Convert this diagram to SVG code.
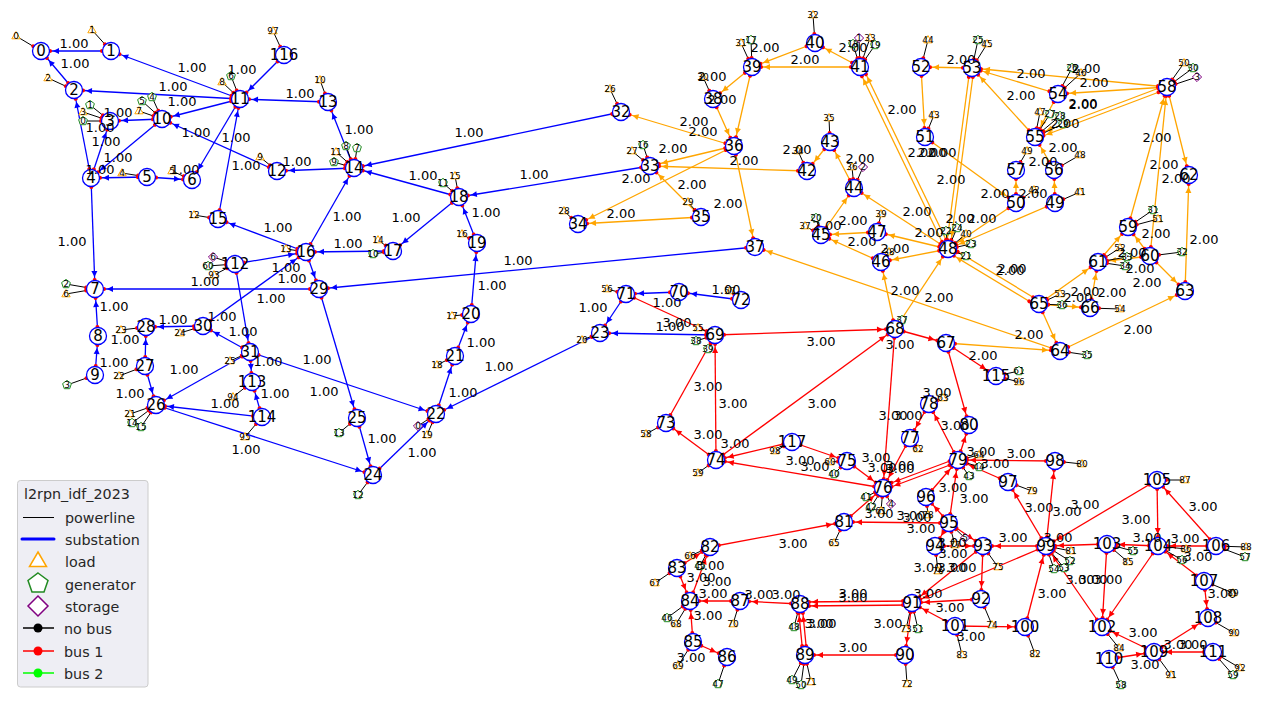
<svg xmlns="http://www.w3.org/2000/svg" width="1263" height="704" viewBox="0 0 1263 704">
<style>
text{font-family:"DejaVu Sans",sans-serif;fill:#000;text-anchor:middle;dominant-baseline:central}
.n{font-size:15px}.e{font-size:13px}.s{font-size:9px}
.lg{font-size:14.3px;fill:#262626;text-anchor:start}
line.b,line.o,line.r{stroke-width:1.3;marker-start:url(#d)}
line.b{stroke:#00f;marker-end:url(#ab)}line.o{stroke:#ffa500;marker-end:url(#ao)}line.r{stroke:#f00;marker-end:url(#ar)}
line.p{stroke:#000;stroke-width:1;marker-start:url(#d)}
circle.c{fill:#fff;stroke:#00f;stroke-width:1.3}
.L{fill:#fff;stroke:#ffa500}.G{fill:#fff;stroke:#228b22}.S{fill:#fff;stroke:#800080}
</style>
<defs>
<marker id="d" markerUnits="userSpaceOnUse" overflow="visible" orient="auto" refX="0" refY="0" markerWidth="1" markerHeight="1"><circle cx="9" cy="0" r="2" fill="#f00"/></marker>
<marker id="ab" markerUnits="userSpaceOnUse" overflow="visible" orient="auto" refX="0" refY="0" markerWidth="1" markerHeight="1"><circle cx="-9" cy="0" r="2" fill="#f00"/><polygon points="-12,0 -18,-3 -18,3" fill="#00f"/></marker>
<marker id="ao" markerUnits="userSpaceOnUse" overflow="visible" orient="auto" refX="0" refY="0" markerWidth="1" markerHeight="1"><circle cx="-9" cy="0" r="2" fill="#f00"/><polygon points="-12,0 -18,-3 -18,3" fill="#ffa500"/></marker>
<marker id="ar" markerUnits="userSpaceOnUse" overflow="visible" orient="auto" refX="0" refY="0" markerWidth="1" markerHeight="1"><circle cx="-9" cy="0" r="2" fill="#f00"/><polygon points="-12,0 -18,-3 -18,3" fill="#f00"/></marker>
<polygon id="tL" class="L" points="0,-4.4 4.2,2.8 -4.2,2.8"/>
<polygon id="tG" class="G" points="0,-4.6 4.4,-1.4 2.7,3.7 -2.7,3.7 -4.4,-1.4"/>
<polygon id="tS" class="S" points="0,-4.6 4.6,0 0,4.6 -4.6,0"/>
</defs>
<g id="connectors">
<g id="lines-blue">
<line class="b" x1="111" y1="51" x2="41" y2="51"/><line class="b" x1="74" y1="90" x2="41" y2="51"/><line class="b" x1="240" y1="99" x2="111" y2="51"/><line class="b" x1="240" y1="99" x2="74" y2="90"/><line class="b" x1="91" y1="178" x2="74" y2="90"/><line class="b" x1="91" y1="178" x2="110" y2="121"/><line class="b" x1="162" y1="119" x2="110" y2="121"/><line class="b" x1="162" y1="119" x2="91" y2="178"/><line class="b" x1="240" y1="99" x2="162" y2="119"/><line class="b" x1="240" y1="99" x2="192" y2="180"/><line class="b" x1="277" y1="171" x2="162" y2="119"/><line class="b" x1="218" y1="219" x2="240" y2="99"/><line class="b" x1="284" y1="55" x2="240" y2="99"/><line class="b" x1="328" y1="102" x2="240" y2="99"/><line class="b" x1="354" y1="168" x2="277" y2="171"/><line class="b" x1="354" y1="168" x2="328" y2="102"/><line class="b" x1="147" y1="177" x2="91" y2="178"/><line class="b" x1="147" y1="177" x2="192" y2="180"/><line class="b" x1="91" y1="178" x2="95" y2="289"/><line class="b" x1="98" y1="336" x2="95" y2="289"/><line class="b" x1="95" y1="375" x2="98" y2="336"/><line class="b" x1="306" y1="252" x2="218" y2="219"/><line class="b" x1="621" y1="112" x2="354" y2="168"/><line class="b" x1="459" y1="197" x2="354" y2="168"/><line class="b" x1="306" y1="252" x2="354" y2="168"/><line class="b" x1="393" y1="251" x2="306" y2="252"/><line class="b" x1="459" y1="197" x2="393" y2="251"/><line class="b" x1="477" y1="243" x2="459" y2="197"/><line class="b" x1="471" y1="314" x2="477" y2="243"/><line class="b" x1="455" y1="356" x2="471" y2="314"/><line class="b" x1="436" y1="414" x2="455" y2="356"/><line class="b" x1="600" y1="333" x2="436" y2="414"/><line class="b" x1="373" y1="475" x2="436" y2="414"/><line class="b" x1="357" y1="418" x2="373" y2="475"/><line class="b" x1="319" y1="289" x2="357" y2="418"/><line class="b" x1="156" y1="405" x2="373" y2="475"/><line class="b" x1="306" y1="252" x2="319" y2="289"/><line class="b" x1="755" y1="247" x2="319" y2="289"/><line class="b" x1="319" y1="289" x2="95" y2="289"/><line class="b" x1="203" y1="326" x2="306" y2="252"/><line class="b" x1="235" y1="264" x2="306" y2="252"/><line class="b" x1="250" y1="352" x2="203" y2="326"/><line class="b" x1="203" y1="326" x2="146" y2="327"/><line class="b" x1="145" y1="366" x2="146" y2="327"/><line class="b" x1="145" y1="366" x2="156" y2="405"/><line class="b" x1="250" y1="352" x2="156" y2="405"/><line class="b" x1="262" y1="417" x2="156" y2="405"/><line class="b" x1="250" y1="352" x2="436" y2="414"/><line class="b" x1="250" y1="352" x2="252" y2="382"/><line class="b" x1="262" y1="417" x2="252" y2="382"/><line class="b" x1="235" y1="264" x2="250" y2="352"/><line class="b" x1="650" y1="166" x2="459" y2="197"/><line class="b" x1="626" y1="294" x2="600" y2="333"/><line class="b" x1="715" y1="335" x2="600" y2="333"/><line class="b" x1="679" y1="292" x2="626" y2="294"/><line class="b" x1="741" y1="300" x2="679" y2="292"/>
</g>
<g id="lines-orange">
<line class="o" x1="734" y1="146" x2="621" y2="112"/><line class="o" x1="734" y1="146" x2="650" y2="166"/><line class="o" x1="807" y1="171" x2="650" y2="166"/><line class="o" x1="701" y1="217" x2="650" y2="166"/><line class="o" x1="734" y1="146" x2="578" y2="224"/><line class="o" x1="701" y1="217" x2="578" y2="224"/><line class="o" x1="713" y1="99" x2="734" y2="146"/><line class="o" x1="752" y1="67" x2="734" y2="146"/><line class="o" x1="752" y1="67" x2="713" y2="99"/><line class="o" x1="815" y1="43" x2="752" y2="67"/><line class="o" x1="860" y1="67" x2="752" y2="67"/><line class="o" x1="860" y1="67" x2="815" y2="43"/><line class="o" x1="734" y1="146" x2="755" y2="247"/><line class="o" x1="1060" y1="351" x2="755" y2="247"/><line class="o" x1="830" y1="142" x2="807" y2="171"/><line class="o" x1="854" y1="188" x2="830" y2="142"/><line class="o" x1="821" y1="235" x2="854" y2="188"/><line class="o" x1="877" y1="232" x2="821" y2="235"/><line class="o" x1="881" y1="262" x2="821" y2="235"/><line class="o" x1="948" y1="249" x2="877" y2="232"/><line class="o" x1="948" y1="249" x2="881" y2="262"/><line class="o" x1="948" y1="249" x2="854" y2="188"/><line class="o" x1="946" y1="250" x2="858" y2="68"/><line class="o" x1="950" y1="248" x2="862" y2="66"/><line class="o" x1="970" y1="68" x2="946" y2="249"/><line class="o" x1="974" y1="68" x2="950" y2="249"/><line class="o" x1="1016" y1="203" x2="948" y2="249"/><line class="o" x1="1055" y1="203" x2="948" y2="249"/><line class="o" x1="925" y1="137" x2="1016" y2="203"/><line class="o" x1="921" y1="67" x2="925" y2="137"/><line class="o" x1="972" y1="68" x2="921" y2="67"/><line class="o" x1="1058" y1="94" x2="972" y2="68"/><line class="o" x1="1167" y1="87" x2="972" y2="68"/><line class="o" x1="1035" y1="137" x2="972" y2="68"/><line class="o" x1="1167" y1="87" x2="1058" y2="94"/><line class="o" x1="1058" y1="94" x2="1035" y2="137"/><line class="o" x1="1167" y1="85" x2="1035" y2="135"/><line class="o" x1="1167" y1="89" x2="1035" y2="139"/><line class="o" x1="1054" y1="170" x2="1035" y2="137"/><line class="o" x1="1055" y1="203" x2="1054" y2="170"/><line class="o" x1="1016" y1="203" x2="1016" y2="170"/><line class="o" x1="1128" y1="227" x2="1167" y2="87"/><line class="o" x1="1150" y1="256" x2="1167" y2="87"/><line class="o" x1="1167" y1="87" x2="1189" y2="175"/><line class="o" x1="1185" y1="291" x2="1189" y2="175"/><line class="o" x1="1150" y1="256" x2="1128" y2="227"/><line class="o" x1="1098" y1="262" x2="1128" y2="227"/><line class="o" x1="1150" y1="256" x2="1098" y2="262"/><line class="o" x1="1150" y1="256" x2="1185" y2="291"/><line class="o" x1="1060" y1="351" x2="1185" y2="291"/><line class="o" x1="1039" y1="304" x2="1098" y2="262"/><line class="o" x1="1090" y1="308" x2="1098" y2="262"/><line class="o" x1="1039" y1="304" x2="1090" y2="308"/><line class="o" x1="1039" y1="304" x2="1060" y2="351"/><line class="o" x1="1041" y1="302" x2="950" y2="247"/><line class="o" x1="1037" y1="306" x2="946" y2="251"/><line class="o" x1="895" y1="329" x2="948" y2="249"/><line class="o" x1="895" y1="329" x2="881" y2="262"/><line class="o" x1="946" y1="343" x2="1060" y2="351"/>
</g>
<g id="lines-red">
<line class="r" x1="626" y1="294" x2="715" y2="335"/><line class="r" x1="715" y1="335" x2="895" y2="329"/><line class="r" x1="716" y1="460" x2="715" y2="335"/><line class="r" x1="666" y1="423" x2="715" y2="335"/><line class="r" x1="716" y1="460" x2="666" y2="423"/><line class="r" x1="716" y1="460" x2="895" y2="329"/><line class="r" x1="792" y1="442" x2="716" y2="460"/><line class="r" x1="883" y1="488" x2="716" y2="460"/><line class="r" x1="792" y1="442" x2="847" y2="461"/><line class="r" x1="847" y1="461" x2="883" y2="488"/><line class="r" x1="895" y1="329" x2="946" y2="343"/><line class="r" x1="895" y1="329" x2="883" y2="488"/><line class="r" x1="910" y1="438" x2="883" y2="488"/><line class="r" x1="929" y1="404" x2="910" y2="438"/><line class="r" x1="958" y1="460" x2="929" y2="404"/><line class="r" x1="958" y1="460" x2="969" y2="425"/><line class="r" x1="946" y1="343" x2="969" y2="425"/><line class="r" x1="946" y1="343" x2="996" y2="376"/><line class="r" x1="958" y1="458" x2="883" y2="486"/><line class="r" x1="958" y1="462" x2="883" y2="490"/><line class="r" x1="926" y1="497" x2="958" y2="460"/><line class="r" x1="949" y1="523" x2="958" y2="460"/><line class="r" x1="1008" y1="482" x2="958" y2="460"/><line class="r" x1="1055" y1="461" x2="958" y2="460"/><line class="r" x1="949" y1="523" x2="926" y2="497"/><line class="r" x1="949" y1="523" x2="844" y2="522"/><line class="r" x1="844" y1="522" x2="883" y2="488"/><line class="r" x1="1046" y1="546" x2="1008" y2="482"/><line class="r" x1="1046" y1="546" x2="1055" y2="461"/><line class="r" x1="710" y1="547" x2="844" y2="522"/><line class="r" x1="949" y1="523" x2="983" y2="546"/><line class="r" x1="949" y1="523" x2="935" y2="546"/><line class="r" x1="935" y1="546" x2="983" y2="546"/><line class="r" x1="1046" y1="546" x2="983" y2="546"/><line class="r" x1="983" y1="546" x2="912" y2="603"/><line class="r" x1="1046" y1="546" x2="912" y2="603"/><line class="r" x1="983" y1="546" x2="981" y2="599"/><line class="r" x1="981" y1="599" x2="912" y2="603"/><line class="r" x1="955" y1="626" x2="912" y2="603"/><line class="r" x1="955" y1="626" x2="1025" y2="627"/><line class="r" x1="1025" y1="627" x2="1046" y2="546"/><line class="r" x1="912" y1="601" x2="800" y2="602"/><line class="r" x1="912" y1="605" x2="800" y2="606"/><line class="r" x1="912" y1="603" x2="905" y2="655"/><line class="r" x1="905" y1="655" x2="805" y2="655"/><line class="r" x1="803" y1="655" x2="798" y2="604"/><line class="r" x1="807" y1="655" x2="802" y2="604"/><line class="r" x1="800" y1="604" x2="740" y2="601"/><line class="r" x1="740" y1="601" x2="690" y2="601"/><line class="r" x1="693" y1="642" x2="690" y2="601"/><line class="r" x1="693" y1="642" x2="727" y2="657"/><line class="r" x1="677" y1="568" x2="690" y2="601"/><line class="r" x1="677" y1="568" x2="710" y2="547"/><line class="r" x1="690" y1="601" x2="710" y2="547"/><line class="r" x1="1107" y1="544" x2="1046" y2="546"/><line class="r" x1="1158" y1="546" x2="1107" y2="544"/><line class="r" x1="1216" y1="546" x2="1158" y2="546"/><line class="r" x1="1157" y1="480" x2="1158" y2="546"/><line class="r" x1="1216" y1="546" x2="1157" y2="480"/><line class="r" x1="1157" y1="480" x2="1046" y2="546"/><line class="r" x1="1102" y1="627" x2="1046" y2="546"/><line class="r" x1="1107" y1="544" x2="1102" y2="627"/><line class="r" x1="1158" y1="546" x2="1102" y2="627"/><line class="r" x1="1204" y1="581" x2="1158" y2="546"/><line class="r" x1="1204" y1="581" x2="1208" y2="618"/><line class="r" x1="1154" y1="652" x2="1208" y2="618"/><line class="r" x1="1154" y1="652" x2="1102" y2="627"/><line class="r" x1="1109" y1="659" x2="1154" y2="652"/><line class="r" x1="1213" y1="652" x2="1154" y2="652"/>
</g>
</g>
<g id="attachments">
<g id="load-0"><line class="p" x1="41" y1="51" x2="16" y2="36"/><use href="#tL" x="16" y="36"/><text class="s" x="16" y="36">0</text></g>
<g id="load-1"><line class="p" x1="111" y1="51" x2="92" y2="30"/><use href="#tL" x="92" y="30"/><text class="s" x="92" y="30">1</text></g>
<g id="load-2"><line class="p" x1="74" y1="90" x2="48" y2="78"/><use href="#tL" x="48" y="78"/><text class="s" x="48" y="78">2</text></g>
<g id="load-3"><line class="p" x1="110" y1="121" x2="83" y2="112"/><use href="#tL" x="83" y="112"/><text class="s" x="83" y="112">3</text></g>
<g id="gen-1"><line class="p" x1="110" y1="121" x2="90" y2="105"/><use href="#tG" x="90" y="105"/><text class="s" x="90" y="105">1</text></g>
<g id="gen-0"><line class="p" x1="110" y1="121" x2="83" y2="121"/><use href="#tG" x="83" y="121"/><text class="s" x="83" y="121">0</text></g>
<g id="load-4"><line class="p" x1="147" y1="177" x2="122" y2="173"/><use href="#tL" x="122" y="173"/><text class="s" x="122" y="173">4</text></g>
<g id="load-5"><line class="p" x1="192" y1="180" x2="172" y2="171"/><use href="#tL" x="172" y="171"/><text class="s" x="172" y="171">5</text></g>
<g id="gen-2"><line class="p" x1="95" y1="289" x2="66" y2="284"/><use href="#tG" x="66" y="284"/><text class="s" x="66" y="284">2</text></g>
<g id="load-6"><line class="p" x1="95" y1="289" x2="66" y2="294"/><use href="#tL" x="66" y="294"/><text class="s" x="66" y="294">6</text></g>
<g id="gen-3"><line class="p" x1="95" y1="375" x2="67" y2="385"/><use href="#tG" x="67" y="385"/><text class="s" x="67" y="385">3</text></g>
<g id="load-7"><line class="p" x1="162" y1="119" x2="139" y2="111"/><use href="#tL" x="139" y="111"/><text class="s" x="139" y="111">7</text></g>
<g id="gen-5"><line class="p" x1="162" y1="119" x2="142" y2="101"/><use href="#tG" x="142" y="101"/><text class="s" x="142" y="101">5</text></g>
<g id="gen-4"><line class="p" x1="162" y1="119" x2="152" y2="97"/><use href="#tG" x="152" y="97"/><text class="s" x="152" y="97">4</text></g>
<g id="load-8"><line class="p" x1="240" y1="99" x2="222" y2="82"/><use href="#tL" x="222" y="82"/><text class="s" x="222" y="82">8</text></g>
<g id="gen-6"><line class="p" x1="240" y1="99" x2="231" y2="76"/><use href="#tG" x="231" y="76"/><text class="s" x="231" y="76">6</text></g>
<g id="load-9"><line class="p" x1="277" y1="171" x2="260" y2="157"/><use href="#tL" x="260" y="157"/><text class="s" x="260" y="157">9</text></g>
<g id="load-10"><line class="p" x1="328" y1="102" x2="320" y2="80"/><use href="#tL" x="320" y="80"/><text class="s" x="320" y="80">10</text></g>
<g id="load-11"><line class="p" x1="354" y1="168" x2="336" y2="152"/><use href="#tL" x="336" y="152"/><text class="s" x="336" y="152">11</text></g>
<g id="gen-8"><line class="p" x1="354" y1="168" x2="346" y2="146"/><use href="#tG" x="346" y="146"/><text class="s" x="346" y="146">8</text></g>
<g id="gen-7"><line class="p" x1="354" y1="168" x2="357" y2="148"/><use href="#tG" x="357" y="148"/><text class="s" x="357" y="148">7</text></g>
<g id="gen-9"><line class="p" x1="354" y1="168" x2="334" y2="162"/><use href="#tG" x="334" y="162"/><text class="s" x="334" y="162">9</text></g>
<g id="load-15"><line class="p" x1="459" y1="197" x2="455" y2="176"/><use href="#tL" x="455" y="176"/><text class="s" x="455" y="176">15</text></g>
<g id="gen-11"><line class="p" x1="459" y1="197" x2="443" y2="183"/><use href="#tG" x="443" y="183"/><text class="s" x="443" y="183">11</text></g>
<g id="load-12"><line class="p" x1="218" y1="219" x2="194" y2="215"/><use href="#tL" x="194" y="215"/><text class="s" x="194" y="215">12</text></g>
<g id="load-13"><line class="p" x1="306" y1="252" x2="286" y2="249"/><use href="#tL" x="286" y="249"/><text class="s" x="286" y="249">13</text></g>
<g id="load-14"><line class="p" x1="393" y1="251" x2="378" y2="240"/><use href="#tL" x="378" y="240"/><text class="s" x="378" y="240">14</text></g>
<g id="gen-10"><line class="p" x1="393" y1="251" x2="373" y2="254"/><use href="#tG" x="373" y="254"/><text class="s" x="373" y="254">10</text></g>
<g id="load-16"><line class="p" x1="477" y1="243" x2="462" y2="234"/><use href="#tL" x="462" y="234"/><text class="s" x="462" y="234">16</text></g>
<g id="load-17"><line class="p" x1="471" y1="314" x2="452" y2="316"/><use href="#tL" x="452" y="316"/><text class="s" x="452" y="316">17</text></g>
<g id="load-18"><line class="p" x1="455" y1="356" x2="437" y2="365"/><use href="#tL" x="437" y="365"/><text class="s" x="437" y="365">18</text></g>
<g id="load-19"><line class="p" x1="436" y1="414" x2="427" y2="435"/><use href="#tL" x="427" y="435"/><text class="s" x="427" y="435">19</text></g>
<g id="storage-0"><line class="p" x1="436" y1="414" x2="418" y2="426"/><use href="#tS" x="418" y="426"/><text class="s" x="418" y="426">0</text></g>
<g id="load-20"><line class="p" x1="600" y1="333" x2="582" y2="340"/><use href="#tL" x="582" y="340"/><text class="s" x="582" y="340">20</text></g>
<g id="gen-12"><line class="p" x1="373" y1="475" x2="358" y2="495"/><use href="#tG" x="358" y="495"/><text class="s" x="358" y="495">12</text></g>
<g id="gen-13"><line class="p" x1="357" y1="418" x2="339" y2="433"/><use href="#tG" x="339" y="433"/><text class="s" x="339" y="433">13</text></g>
<g id="load-21"><line class="p" x1="156" y1="405" x2="130" y2="414"/><use href="#tL" x="130" y="414"/><text class="s" x="130" y="414">21</text></g>
<g id="gen-14"><line class="p" x1="156" y1="405" x2="132" y2="423"/><use href="#tG" x="132" y="423"/><text class="s" x="132" y="423">14</text></g>
<g id="gen-15"><line class="p" x1="156" y1="405" x2="141" y2="427"/><use href="#tG" x="141" y="427"/><text class="s" x="141" y="427">15</text></g>
<g id="load-22"><line class="p" x1="145" y1="366" x2="119" y2="376"/><use href="#tL" x="119" y="376"/><text class="s" x="119" y="376">22</text></g>
<g id="load-23"><line class="p" x1="146" y1="327" x2="121" y2="330"/><use href="#tL" x="121" y="330"/><text class="s" x="121" y="330">23</text></g>
<g id="load-24"><line class="p" x1="203" y1="326" x2="180" y2="333"/><use href="#tL" x="180" y="333"/><text class="s" x="180" y="333">24</text></g>
<g id="load-25"><line class="p" x1="250" y1="352" x2="230" y2="361"/><use href="#tL" x="230" y="361"/><text class="s" x="230" y="361">25</text></g>
<g id="load-26"><line class="p" x1="621" y1="112" x2="610" y2="89"/><use href="#tL" x="610" y="89"/><text class="s" x="610" y="89">26</text></g>
<g id="load-27"><line class="p" x1="650" y1="166" x2="632" y2="151"/><use href="#tL" x="632" y="151"/><text class="s" x="632" y="151">27</text></g>
<g id="gen-16"><line class="p" x1="650" y1="166" x2="643" y2="145"/><use href="#tG" x="643" y="145"/><text class="s" x="643" y="145">16</text></g>
<g id="load-28"><line class="p" x1="578" y1="224" x2="564" y2="211"/><use href="#tL" x="564" y="211"/><text class="s" x="564" y="211">28</text></g>
<g id="load-29"><line class="p" x1="701" y1="217" x2="688" y2="202"/><use href="#tL" x="688" y="202"/><text class="s" x="688" y="202">29</text></g>
<g id="load-30"><line class="p" x1="713" y1="99" x2="703" y2="77"/><use href="#tL" x="703" y="77"/><text class="s" x="703" y="77">30</text></g>
<g id="load-31"><line class="p" x1="752" y1="67" x2="741" y2="43"/><use href="#tL" x="741" y="43"/><text class="s" x="741" y="43">31</text></g>
<g id="gen-17"><line class="p" x1="752" y1="67" x2="751" y2="40"/><use href="#tG" x="751" y="40"/><text class="s" x="751" y="40">17</text></g>
<g id="load-32"><line class="p" x1="815" y1="43" x2="813" y2="15"/><use href="#tL" x="813" y="15"/><text class="s" x="813" y="15">32</text></g>
<g id="load-33"><line class="p" x1="860" y1="67" x2="870" y2="38"/><use href="#tL" x="870" y="38"/><text class="s" x="870" y="38">33</text></g>
<g id="gen-18"><line class="p" x1="860" y1="67" x2="853" y2="44"/><use href="#tG" x="853" y="44"/><text class="s" x="853" y="44">18</text></g>
<g id="storage-1"><line class="p" x1="860" y1="67" x2="859" y2="38"/><use href="#tS" x="859" y="38"/><text class="s" x="859" y="38">1</text></g>
<g id="gen-19"><line class="p" x1="860" y1="67" x2="875" y2="45"/><use href="#tG" x="875" y="45"/><text class="s" x="875" y="45">19</text></g>
<g id="load-34"><line class="p" x1="807" y1="171" x2="798" y2="151"/><use href="#tL" x="798" y="151"/><text class="s" x="798" y="151">34</text></g>
<g id="load-35"><line class="p" x1="830" y1="142" x2="829" y2="118"/><use href="#tL" x="829" y="118"/><text class="s" x="829" y="118">35</text></g>
<g id="load-36"><line class="p" x1="854" y1="188" x2="852" y2="167"/><use href="#tL" x="852" y="167"/><text class="s" x="852" y="167">36</text></g>
<g id="storage-2"><line class="p" x1="854" y1="188" x2="863" y2="167"/><use href="#tS" x="863" y="167"/><text class="s" x="863" y="167">2</text></g>
<g id="load-37"><line class="p" x1="821" y1="235" x2="805" y2="226"/><use href="#tL" x="805" y="226"/><text class="s" x="805" y="226">37</text></g>
<g id="gen-20"><line class="p" x1="821" y1="235" x2="816" y2="218"/><use href="#tG" x="816" y="218"/><text class="s" x="816" y="218">20</text></g>
<g id="load-38"><line class="p" x1="881" y1="262" x2="889" y2="252"/><use href="#tL" x="889" y="252"/><text class="s" x="889" y="252">38</text></g>
<g id="load-39"><line class="p" x1="877" y1="232" x2="881" y2="214"/><use href="#tL" x="881" y="214"/><text class="s" x="881" y="214">39</text></g>
<g id="load-40"><line class="p" x1="948" y1="249" x2="966" y2="234"/><use href="#tL" x="966" y="234"/><text class="s" x="966" y="234">40</text></g>
<g id="gen-22"><line class="p" x1="948" y1="249" x2="946" y2="231"/><use href="#tG" x="946" y="231"/><text class="s" x="946" y="231">22</text></g>
<g id="gen-24"><line class="p" x1="948" y1="249" x2="957" y2="228"/><use href="#tG" x="957" y="228"/><text class="s" x="957" y="228">24</text></g>
<g id="gen-23"><line class="p" x1="948" y1="249" x2="971" y2="244"/><use href="#tG" x="971" y="244"/><text class="s" x="971" y="244">23</text></g>
<g id="gen-21"><line class="p" x1="948" y1="249" x2="966" y2="256"/><use href="#tG" x="966" y="256"/><text class="s" x="966" y="256">21</text></g>
<g id="load-41"><line class="p" x1="1055" y1="203" x2="1080" y2="192"/><use href="#tL" x="1080" y="192"/><text class="s" x="1080" y="192">41</text></g>
<g id="load-42"><line class="p" x1="1016" y1="203" x2="1034" y2="190"/><use href="#tL" x="1034" y="190"/><text class="s" x="1034" y="190">42</text></g>
<g id="load-48"><line class="p" x1="1054" y1="170" x2="1080" y2="155"/><use href="#tL" x="1080" y="155"/><text class="s" x="1080" y="155">48</text></g>
<g id="load-43"><line class="p" x1="925" y1="137" x2="934" y2="115"/><use href="#tL" x="934" y="115"/><text class="s" x="934" y="115">43</text></g>
<g id="load-44"><line class="p" x1="921" y1="67" x2="928" y2="40"/><use href="#tL" x="928" y="40"/><text class="s" x="928" y="40">44</text></g>
<g id="load-45"><line class="p" x1="972" y1="68" x2="987" y2="44"/><use href="#tL" x="987" y="44"/><text class="s" x="987" y="44">45</text></g>
<g id="gen-25"><line class="p" x1="972" y1="68" x2="978" y2="40"/><use href="#tG" x="978" y="40"/><text class="s" x="978" y="40">25</text></g>
<g id="load-46"><line class="p" x1="1058" y1="94" x2="1081" y2="73"/><use href="#tL" x="1081" y="73"/><text class="s" x="1081" y="73">46</text></g>
<g id="gen-26"><line class="p" x1="1058" y1="94" x2="1072" y2="68"/><use href="#tG" x="1072" y="68"/><text class="s" x="1072" y="68">26</text></g>
<g id="load-47"><line class="p" x1="1035" y1="137" x2="1040" y2="112"/><use href="#tL" x="1040" y="112"/><text class="s" x="1040" y="112">47</text></g>
<g id="gen-27"><line class="p" x1="1035" y1="137" x2="1050" y2="114"/><use href="#tG" x="1050" y="114"/><text class="s" x="1050" y="114">27</text></g>
<g id="gen-28"><line class="p" x1="1035" y1="137" x2="1060" y2="116"/><use href="#tG" x="1060" y="116"/><text class="s" x="1060" y="116">28</text></g>
<g id="gen-29"><line class="p" x1="1035" y1="137" x2="1063" y2="124"/><use href="#tG" x="1063" y="124"/><text class="s" x="1063" y="124">29</text></g>
<g id="load-49"><line class="p" x1="1016" y1="170" x2="1027" y2="151"/><use href="#tL" x="1027" y="151"/><text class="s" x="1027" y="151">49</text></g>
<g id="load-50"><line class="p" x1="1167" y1="87" x2="1184" y2="63"/><use href="#tL" x="1184" y="63"/><text class="s" x="1184" y="63">50</text></g>
<g id="gen-30"><line class="p" x1="1167" y1="87" x2="1193" y2="68"/><use href="#tG" x="1193" y="68"/><text class="s" x="1193" y="68">30</text></g>
<g id="storage-3"><line class="p" x1="1167" y1="87" x2="1197" y2="77"/><use href="#tS" x="1197" y="77"/><text class="s" x="1197" y="77">3</text></g>
<g id="load-51"><line class="p" x1="1128" y1="227" x2="1158" y2="219"/><use href="#tL" x="1158" y="219"/><text class="s" x="1158" y="219">51</text></g>
<g id="gen-31"><line class="p" x1="1128" y1="227" x2="1153" y2="210"/><use href="#tG" x="1153" y="210"/><text class="s" x="1153" y="210">31</text></g>
<g id="load-52"><line class="p" x1="1098" y1="262" x2="1120" y2="248"/><use href="#tL" x="1120" y="248"/><text class="s" x="1120" y="248">52</text></g>
<g id="gen-33"><line class="p" x1="1098" y1="262" x2="1127" y2="257"/><use href="#tG" x="1127" y="257"/><text class="s" x="1127" y="257">33</text></g>
<g id="gen-34"><line class="p" x1="1098" y1="262" x2="1125" y2="266"/><use href="#tG" x="1125" y="266"/><text class="s" x="1125" y="266">34</text></g>
<g id="gen-32"><line class="p" x1="1150" y1="256" x2="1182" y2="252"/><use href="#tG" x="1182" y="252"/><text class="s" x="1182" y="252">32</text></g>
<g id="gen-35"><line class="p" x1="1060" y1="351" x2="1087" y2="355"/><use href="#tG" x="1087" y="355"/><text class="s" x="1087" y="355">35</text></g>
<g id="gen-36"><line class="p" x1="1039" y1="304" x2="1062" y2="305"/><use href="#tG" x="1062" y="305"/><text class="s" x="1062" y="305">36</text></g>
<g id="load-53"><line class="p" x1="1039" y1="304" x2="1060" y2="294"/><use href="#tL" x="1060" y="294"/><text class="s" x="1060" y="294">53</text></g>
<g id="load-54"><line class="p" x1="1090" y1="308" x2="1120" y2="309"/><use href="#tL" x="1120" y="309"/><text class="s" x="1120" y="309">54</text></g>
<g id="gen-37"><line class="p" x1="895" y1="329" x2="902" y2="320"/><use href="#tG" x="902" y="320"/><text class="s" x="902" y="320">37</text></g>
<g id="load-55"><line class="p" x1="715" y1="335" x2="698" y2="328"/><use href="#tL" x="698" y="328"/><text class="s" x="698" y="328">55</text></g>
<g id="gen-38"><line class="p" x1="715" y1="335" x2="696" y2="341"/><use href="#tG" x="696" y="341"/><text class="s" x="696" y="341">38</text></g>
<g id="gen-39"><line class="p" x1="715" y1="335" x2="708" y2="349"/><use href="#tG" x="708" y="349"/><text class="s" x="708" y="349">39</text></g>
<g id="load-56"><line class="p" x1="626" y1="294" x2="607" y2="289"/><use href="#tL" x="607" y="289"/><text class="s" x="607" y="289">56</text></g>
<g id="load-57"><line class="p" x1="741" y1="300" x2="730" y2="291"/><use href="#tL" x="730" y="291"/><text class="s" x="730" y="291">57</text></g>
<g id="load-58"><line class="p" x1="666" y1="423" x2="646" y2="434"/><use href="#tL" x="646" y="434"/><text class="s" x="646" y="434">58</text></g>
<g id="load-59"><line class="p" x1="716" y1="460" x2="698" y2="473"/><use href="#tL" x="698" y="473"/><text class="s" x="698" y="473">59</text></g>
<g id="load-60"><line class="p" x1="847" y1="461" x2="830" y2="462"/><use href="#tL" x="830" y="462"/><text class="s" x="830" y="462">60</text></g>
<g id="gen-40"><line class="p" x1="847" y1="461" x2="834" y2="474"/><use href="#tG" x="834" y="474"/><text class="s" x="834" y="474">40</text></g>
<g id="gen-41"><line class="p" x1="883" y1="488" x2="866" y2="497"/><use href="#tG" x="866" y="497"/><text class="s" x="866" y="497">41</text></g>
<g id="gen-42"><line class="p" x1="883" y1="488" x2="871" y2="507"/><use href="#tG" x="871" y="507"/><text class="s" x="871" y="507">42</text></g>
<g id="load-61"><line class="p" x1="883" y1="488" x2="881" y2="511"/><use href="#tL" x="881" y="511"/><text class="s" x="881" y="511">61</text></g>
<g id="storage-4"><line class="p" x1="883" y1="488" x2="891" y2="504"/><use href="#tS" x="891" y="504"/><text class="s" x="891" y="504">4</text></g>
<g id="gen-61"><line class="p" x1="996" y1="376" x2="1019" y2="371"/><use href="#tG" x="1019" y="371"/><text class="s" x="1019" y="371">61</text></g>
<g id="load-96"><line class="p" x1="996" y1="376" x2="1019" y2="382"/><use href="#tL" x="1019" y="382"/><text class="s" x="1019" y="382">96</text></g>
<g id="load-62"><line class="p" x1="910" y1="438" x2="918" y2="449"/><use href="#tL" x="918" y="449"/><text class="s" x="918" y="449">62</text></g>
<g id="load-63"><line class="p" x1="929" y1="404" x2="943" y2="398"/><use href="#tL" x="943" y="398"/><text class="s" x="943" y="398">63</text></g>
<g id="load-64"><line class="p" x1="958" y1="460" x2="979" y2="455"/><use href="#tL" x="979" y="455"/><text class="s" x="979" y="455">64</text></g>
<g id="gen-43"><line class="p" x1="958" y1="460" x2="969" y2="476"/><use href="#tG" x="969" y="476"/><text class="s" x="969" y="476">43</text></g>
<g id="gen-44"><line class="p" x1="958" y1="460" x2="979" y2="467"/><use href="#tG" x="979" y="467"/><text class="s" x="979" y="467">44</text></g>
<g id="load-79"><line class="p" x1="1008" y1="482" x2="1032" y2="491"/><use href="#tL" x="1032" y="491"/><text class="s" x="1032" y="491">79</text></g>
<g id="load-80"><line class="p" x1="1055" y1="461" x2="1082" y2="464"/><use href="#tL" x="1082" y="464"/><text class="s" x="1082" y="464">80</text></g>
<g id="load-65"><line class="p" x1="844" y1="522" x2="834" y2="543"/><use href="#tL" x="834" y="543"/><text class="s" x="834" y="543">65</text></g>
<g id="load-66"><line class="p" x1="710" y1="547" x2="690" y2="556"/><use href="#tL" x="690" y="556"/><text class="s" x="690" y="556">66</text></g>
<g id="gen-45"><line class="p" x1="710" y1="547" x2="700" y2="566"/><use href="#tG" x="700" y="566"/><text class="s" x="700" y="566">45</text></g>
<g id="load-67"><line class="p" x1="677" y1="568" x2="655" y2="583"/><use href="#tL" x="655" y="583"/><text class="s" x="655" y="583">67</text></g>
<g id="gen-46"><line class="p" x1="690" y1="601" x2="667" y2="618"/><use href="#tG" x="667" y="618"/><text class="s" x="667" y="618">46</text></g>
<g id="load-68"><line class="p" x1="690" y1="601" x2="676" y2="624"/><use href="#tL" x="676" y="624"/><text class="s" x="676" y="624">68</text></g>
<g id="load-69"><line class="p" x1="693" y1="642" x2="678" y2="666"/><use href="#tL" x="678" y="666"/><text class="s" x="678" y="666">69</text></g>
<g id="gen-47"><line class="p" x1="727" y1="657" x2="718" y2="684"/><use href="#tG" x="718" y="684"/><text class="s" x="718" y="684">47</text></g>
<g id="load-70"><line class="p" x1="740" y1="601" x2="733" y2="624"/><use href="#tL" x="733" y="624"/><text class="s" x="733" y="624">70</text></g>
<g id="gen-48"><line class="p" x1="800" y1="604" x2="794" y2="627"/><use href="#tG" x="794" y="627"/><text class="s" x="794" y="627">48</text></g>
<g id="gen-49"><line class="p" x1="805" y1="655" x2="792" y2="680"/><use href="#tG" x="792" y="680"/><text class="s" x="792" y="680">49</text></g>
<g id="gen-50"><line class="p" x1="805" y1="655" x2="801" y2="685"/><use href="#tG" x="801" y="685"/><text class="s" x="801" y="685">50</text></g>
<g id="load-71"><line class="p" x1="805" y1="655" x2="811" y2="682"/><use href="#tL" x="811" y="682"/><text class="s" x="811" y="682">71</text></g>
<g id="load-72"><line class="p" x1="905" y1="655" x2="907" y2="684"/><use href="#tL" x="907" y="684"/><text class="s" x="907" y="684">72</text></g>
<g id="load-73"><line class="p" x1="912" y1="603" x2="906" y2="629"/><use href="#tL" x="906" y="629"/><text class="s" x="906" y="629">73</text></g>
<g id="gen-51"><line class="p" x1="912" y1="603" x2="918" y2="629"/><use href="#tG" x="918" y="629"/><text class="s" x="918" y="629">51</text></g>
<g id="load-74"><line class="p" x1="981" y1="599" x2="992" y2="625"/><use href="#tL" x="992" y="625"/><text class="s" x="992" y="625">74</text></g>
<g id="load-75"><line class="p" x1="983" y1="546" x2="998" y2="567"/><use href="#tL" x="998" y="567"/><text class="s" x="998" y="567">75</text></g>
<g id="load-76"><line class="p" x1="935" y1="546" x2="938" y2="571"/><use href="#tL" x="938" y="571"/><text class="s" x="938" y="571">76</text></g>
<g id="storage-5"><line class="p" x1="949" y1="523" x2="965" y2="538"/><use href="#tS" x="965" y="538"/><text class="s" x="965" y="538">5</text></g>
<g id="load-77"><line class="p" x1="949" y1="523" x2="955" y2="545"/><use href="#tL" x="955" y="545"/><text class="s" x="955" y="545">77</text></g>
<g id="load-78"><line class="p" x1="926" y1="497" x2="928" y2="515"/><use href="#tL" x="928" y="515"/><text class="s" x="928" y="515">78</text></g>
<g id="load-81"><line class="p" x1="1046" y1="546" x2="1071" y2="551"/><use href="#tL" x="1071" y="551"/><text class="s" x="1071" y="551">81</text></g>
<g id="gen-52"><line class="p" x1="1046" y1="546" x2="1070" y2="561"/><use href="#tG" x="1070" y="561"/><text class="s" x="1070" y="561">52</text></g>
<g id="gen-53"><line class="p" x1="1046" y1="546" x2="1064" y2="568"/><use href="#tG" x="1064" y="568"/><text class="s" x="1064" y="568">53</text></g>
<g id="gen-54"><line class="p" x1="1046" y1="546" x2="1054" y2="569"/><use href="#tG" x="1054" y="569"/><text class="s" x="1054" y="569">54</text></g>
<g id="load-82"><line class="p" x1="1025" y1="627" x2="1035" y2="654"/><use href="#tL" x="1035" y="654"/><text class="s" x="1035" y="654">82</text></g>
<g id="load-83"><line class="p" x1="955" y1="626" x2="962" y2="655"/><use href="#tL" x="962" y="655"/><text class="s" x="962" y="655">83</text></g>
<g id="load-84"><line class="p" x1="1102" y1="627" x2="1119" y2="648"/><use href="#tL" x="1119" y="648"/><text class="s" x="1119" y="648">84</text></g>
<g id="load-85"><line class="p" x1="1107" y1="544" x2="1128" y2="562"/><use href="#tL" x="1128" y="562"/><text class="s" x="1128" y="562">85</text></g>
<g id="gen-55"><line class="p" x1="1107" y1="544" x2="1133" y2="551"/><use href="#tG" x="1133" y="551"/><text class="s" x="1133" y="551">55</text></g>
<g id="load-86"><line class="p" x1="1158" y1="546" x2="1186" y2="549"/><use href="#tL" x="1186" y="549"/><text class="s" x="1186" y="549">86</text></g>
<g id="gen-56"><line class="p" x1="1158" y1="546" x2="1182" y2="560"/><use href="#tG" x="1182" y="560"/><text class="s" x="1182" y="560">56</text></g>
<g id="load-87"><line class="p" x1="1157" y1="480" x2="1185" y2="480"/><use href="#tL" x="1185" y="480"/><text class="s" x="1185" y="480">87</text></g>
<g id="load-88"><line class="p" x1="1216" y1="546" x2="1246" y2="547"/><use href="#tL" x="1246" y="547"/><text class="s" x="1246" y="547">88</text></g>
<g id="gen-57"><line class="p" x1="1216" y1="546" x2="1245" y2="557"/><use href="#tG" x="1245" y="557"/><text class="s" x="1245" y="557">57</text></g>
<g id="load-89"><line class="p" x1="1204" y1="581" x2="1233" y2="593"/><use href="#tL" x="1233" y="593"/><text class="s" x="1233" y="593">89</text></g>
<g id="load-90"><line class="p" x1="1208" y1="618" x2="1234" y2="633"/><use href="#tL" x="1234" y="633"/><text class="s" x="1234" y="633">90</text></g>
<g id="load-91"><line class="p" x1="1154" y1="652" x2="1171" y2="675"/><use href="#tL" x="1171" y="675"/><text class="s" x="1171" y="675">91</text></g>
<g id="gen-58"><line class="p" x1="1109" y1="659" x2="1121" y2="685"/><use href="#tG" x="1121" y="685"/><text class="s" x="1121" y="685">58</text></g>
<g id="load-92"><line class="p" x1="1213" y1="652" x2="1240" y2="668"/><use href="#tL" x="1240" y="668"/><text class="s" x="1240" y="668">92</text></g>
<g id="gen-59"><line class="p" x1="1213" y1="652" x2="1233" y2="675"/><use href="#tG" x="1233" y="675"/><text class="s" x="1233" y="675">59</text></g>
<g id="storage-6"><line class="p" x1="235" y1="264" x2="213" y2="257"/><use href="#tS" x="213" y="257"/><text class="s" x="213" y="257">6</text></g>
<g id="gen-60"><line class="p" x1="235" y1="264" x2="208" y2="266"/><use href="#tG" x="208" y="266"/><text class="s" x="208" y="266">60</text></g>
<g id="load-93"><line class="p" x1="235" y1="264" x2="214" y2="275"/><use href="#tL" x="214" y="275"/><text class="s" x="214" y="275">93</text></g>
<g id="load-94"><line class="p" x1="252" y1="382" x2="233" y2="397"/><use href="#tL" x="233" y="397"/><text class="s" x="233" y="397">94</text></g>
<g id="load-95"><line class="p" x1="262" y1="417" x2="245" y2="437"/><use href="#tL" x="245" y="437"/><text class="s" x="245" y="437">95</text></g>
<g id="load-97"><line class="p" x1="284" y1="55" x2="273" y2="31"/><use href="#tL" x="273" y="31"/><text class="s" x="273" y="31">97</text></g>
<g id="load-98"><line class="p" x1="792" y1="442" x2="775" y2="451"/><use href="#tL" x="775" y="451"/><text class="s" x="775" y="451">98</text></g>
</g>
<g id="substations">
<g id="sub-0"><circle class="c" cx="41" cy="51" r="8.5"/><text class="n" x="41" y="51">0</text></g>
<g id="sub-1"><circle class="c" cx="111" cy="51" r="8.5"/><text class="n" x="111" y="51">1</text></g>
<g id="sub-2"><circle class="c" cx="74" cy="90" r="8.5"/><text class="n" x="74" y="90">2</text></g>
<g id="sub-3"><circle class="c" cx="110" cy="121" r="8.5"/><text class="n" x="110" y="121">3</text></g>
<g id="sub-4"><circle class="c" cx="91" cy="178" r="8.5"/><text class="n" x="91" y="178">4</text></g>
<g id="sub-5"><circle class="c" cx="147" cy="177" r="8.5"/><text class="n" x="147" y="177">5</text></g>
<g id="sub-6"><circle class="c" cx="192" cy="180" r="8.5"/><text class="n" x="192" y="180">6</text></g>
<g id="sub-7"><circle class="c" cx="95" cy="289" r="8.5"/><text class="n" x="95" y="289">7</text></g>
<g id="sub-8"><circle class="c" cx="98" cy="336" r="8.5"/><text class="n" x="98" y="336">8</text></g>
<g id="sub-9"><circle class="c" cx="95" cy="375" r="8.5"/><text class="n" x="95" y="375">9</text></g>
<g id="sub-10"><circle class="c" cx="162" cy="119" r="8.5"/><text class="n" x="162" y="119">10</text></g>
<g id="sub-11"><circle class="c" cx="240" cy="99" r="8.5"/><text class="n" x="240" y="99">11</text></g>
<g id="sub-12"><circle class="c" cx="277" cy="171" r="8.5"/><text class="n" x="277" y="171">12</text></g>
<g id="sub-13"><circle class="c" cx="328" cy="102" r="8.5"/><text class="n" x="328" y="102">13</text></g>
<g id="sub-14"><circle class="c" cx="354" cy="168" r="8.5"/><text class="n" x="354" y="168">14</text></g>
<g id="sub-15"><circle class="c" cx="218" cy="219" r="8.5"/><text class="n" x="218" y="219">15</text></g>
<g id="sub-16"><circle class="c" cx="306" cy="252" r="8.5"/><text class="n" x="306" y="252">16</text></g>
<g id="sub-17"><circle class="c" cx="393" cy="251" r="8.5"/><text class="n" x="393" y="251">17</text></g>
<g id="sub-18"><circle class="c" cx="459" cy="197" r="8.5"/><text class="n" x="459" y="197">18</text></g>
<g id="sub-19"><circle class="c" cx="477" cy="243" r="8.5"/><text class="n" x="477" y="243">19</text></g>
<g id="sub-20"><circle class="c" cx="471" cy="314" r="8.5"/><text class="n" x="471" y="314">20</text></g>
<g id="sub-21"><circle class="c" cx="455" cy="356" r="8.5"/><text class="n" x="455" y="356">21</text></g>
<g id="sub-22"><circle class="c" cx="436" cy="414" r="8.5"/><text class="n" x="436" y="414">22</text></g>
<g id="sub-23"><circle class="c" cx="600" cy="333" r="8.5"/><text class="n" x="600" y="333">23</text></g>
<g id="sub-24"><circle class="c" cx="373" cy="475" r="8.5"/><text class="n" x="373" y="475">24</text></g>
<g id="sub-25"><circle class="c" cx="357" cy="418" r="8.5"/><text class="n" x="357" y="418">25</text></g>
<g id="sub-26"><circle class="c" cx="156" cy="405" r="8.5"/><text class="n" x="156" y="405">26</text></g>
<g id="sub-27"><circle class="c" cx="145" cy="366" r="8.5"/><text class="n" x="145" y="366">27</text></g>
<g id="sub-28"><circle class="c" cx="146" cy="327" r="8.5"/><text class="n" x="146" y="327">28</text></g>
<g id="sub-29"><circle class="c" cx="319" cy="289" r="8.5"/><text class="n" x="319" y="289">29</text></g>
<g id="sub-30"><circle class="c" cx="203" cy="326" r="8.5"/><text class="n" x="203" y="326">30</text></g>
<g id="sub-31"><circle class="c" cx="250" cy="352" r="8.5"/><text class="n" x="250" y="352">31</text></g>
<g id="sub-32"><circle class="c" cx="621" cy="112" r="8.5"/><text class="n" x="621" y="112">32</text></g>
<g id="sub-33"><circle class="c" cx="650" cy="166" r="8.5"/><text class="n" x="650" y="166">33</text></g>
<g id="sub-34"><circle class="c" cx="578" cy="224" r="8.5"/><text class="n" x="578" y="224">34</text></g>
<g id="sub-35"><circle class="c" cx="701" cy="217" r="8.5"/><text class="n" x="701" y="217">35</text></g>
<g id="sub-36"><circle class="c" cx="734" cy="146" r="8.5"/><text class="n" x="734" y="146">36</text></g>
<g id="sub-37"><circle class="c" cx="755" cy="247" r="8.5"/><text class="n" x="755" y="247">37</text></g>
<g id="sub-38"><circle class="c" cx="713" cy="99" r="8.5"/><text class="n" x="713" y="99">38</text></g>
<g id="sub-39"><circle class="c" cx="752" cy="67" r="8.5"/><text class="n" x="752" y="67">39</text></g>
<g id="sub-40"><circle class="c" cx="815" cy="43" r="8.5"/><text class="n" x="815" y="43">40</text></g>
<g id="sub-41"><circle class="c" cx="860" cy="67" r="8.5"/><text class="n" x="860" y="67">41</text></g>
<g id="sub-42"><circle class="c" cx="807" cy="171" r="8.5"/><text class="n" x="807" y="171">42</text></g>
<g id="sub-43"><circle class="c" cx="830" cy="142" r="8.5"/><text class="n" x="830" y="142">43</text></g>
<g id="sub-44"><circle class="c" cx="854" cy="188" r="8.5"/><text class="n" x="854" y="188">44</text></g>
<g id="sub-45"><circle class="c" cx="821" cy="235" r="8.5"/><text class="n" x="821" y="235">45</text></g>
<g id="sub-46"><circle class="c" cx="881" cy="262" r="8.5"/><text class="n" x="881" y="262">46</text></g>
<g id="sub-47"><circle class="c" cx="877" cy="232" r="8.5"/><text class="n" x="877" y="232">47</text></g>
<g id="sub-48"><circle class="c" cx="948" cy="249" r="8.5"/><text class="n" x="948" y="249">48</text></g>
<g id="sub-49"><circle class="c" cx="1055" cy="203" r="8.5"/><text class="n" x="1055" y="203">49</text></g>
<g id="sub-50"><circle class="c" cx="1016" cy="203" r="8.5"/><text class="n" x="1016" y="203">50</text></g>
<g id="sub-51"><circle class="c" cx="925" cy="137" r="8.5"/><text class="n" x="925" y="137">51</text></g>
<g id="sub-52"><circle class="c" cx="921" cy="67" r="8.5"/><text class="n" x="921" y="67">52</text></g>
<g id="sub-53"><circle class="c" cx="972" cy="68" r="8.5"/><text class="n" x="972" y="68">53</text></g>
<g id="sub-54"><circle class="c" cx="1058" cy="94" r="8.5"/><text class="n" x="1058" y="94">54</text></g>
<g id="sub-55"><circle class="c" cx="1035" cy="137" r="8.5"/><text class="n" x="1035" y="137">55</text></g>
<g id="sub-56"><circle class="c" cx="1054" cy="170" r="8.5"/><text class="n" x="1054" y="170">56</text></g>
<g id="sub-57"><circle class="c" cx="1016" cy="170" r="8.5"/><text class="n" x="1016" y="170">57</text></g>
<g id="sub-58"><circle class="c" cx="1167" cy="87" r="8.5"/><text class="n" x="1167" y="87">58</text></g>
<g id="sub-59"><circle class="c" cx="1128" cy="227" r="8.5"/><text class="n" x="1128" y="227">59</text></g>
<g id="sub-60"><circle class="c" cx="1150" cy="256" r="8.5"/><text class="n" x="1150" y="256">60</text></g>
<g id="sub-61"><circle class="c" cx="1098" cy="262" r="8.5"/><text class="n" x="1098" y="262">61</text></g>
<g id="sub-62"><circle class="c" cx="1189" cy="175" r="8.5"/><text class="n" x="1189" y="175">62</text></g>
<g id="sub-63"><circle class="c" cx="1185" cy="291" r="8.5"/><text class="n" x="1185" y="291">63</text></g>
<g id="sub-64"><circle class="c" cx="1060" cy="351" r="8.5"/><text class="n" x="1060" y="351">64</text></g>
<g id="sub-65"><circle class="c" cx="1039" cy="304" r="8.5"/><text class="n" x="1039" y="304">65</text></g>
<g id="sub-66"><circle class="c" cx="1090" cy="308" r="8.5"/><text class="n" x="1090" y="308">66</text></g>
<g id="sub-67"><circle class="c" cx="946" cy="343" r="8.5"/><text class="n" x="946" y="343">67</text></g>
<g id="sub-68"><circle class="c" cx="895" cy="329" r="8.5"/><text class="n" x="895" y="329">68</text></g>
<g id="sub-69"><circle class="c" cx="715" cy="335" r="8.5"/><text class="n" x="715" y="335">69</text></g>
<g id="sub-70"><circle class="c" cx="679" cy="292" r="8.5"/><text class="n" x="679" y="292">70</text></g>
<g id="sub-71"><circle class="c" cx="626" cy="294" r="8.5"/><text class="n" x="626" y="294">71</text></g>
<g id="sub-72"><circle class="c" cx="741" cy="300" r="8.5"/><text class="n" x="741" y="300">72</text></g>
<g id="sub-73"><circle class="c" cx="666" cy="423" r="8.5"/><text class="n" x="666" y="423">73</text></g>
<g id="sub-74"><circle class="c" cx="716" cy="460" r="8.5"/><text class="n" x="716" y="460">74</text></g>
<g id="sub-75"><circle class="c" cx="847" cy="461" r="8.5"/><text class="n" x="847" y="461">75</text></g>
<g id="sub-76"><circle class="c" cx="883" cy="488" r="8.5"/><text class="n" x="883" y="488">76</text></g>
<g id="sub-77"><circle class="c" cx="910" cy="438" r="8.5"/><text class="n" x="910" y="438">77</text></g>
<g id="sub-78"><circle class="c" cx="929" cy="404" r="8.5"/><text class="n" x="929" y="404">78</text></g>
<g id="sub-79"><circle class="c" cx="958" cy="460" r="8.5"/><text class="n" x="958" y="460">79</text></g>
<g id="sub-80"><circle class="c" cx="969" cy="425" r="8.5"/><text class="n" x="969" y="425">80</text></g>
<g id="sub-81"><circle class="c" cx="844" cy="522" r="8.5"/><text class="n" x="844" y="522">81</text></g>
<g id="sub-82"><circle class="c" cx="710" cy="547" r="8.5"/><text class="n" x="710" y="547">82</text></g>
<g id="sub-83"><circle class="c" cx="677" cy="568" r="8.5"/><text class="n" x="677" y="568">83</text></g>
<g id="sub-84"><circle class="c" cx="690" cy="601" r="8.5"/><text class="n" x="690" y="601">84</text></g>
<g id="sub-85"><circle class="c" cx="693" cy="642" r="8.5"/><text class="n" x="693" y="642">85</text></g>
<g id="sub-86"><circle class="c" cx="727" cy="657" r="8.5"/><text class="n" x="727" y="657">86</text></g>
<g id="sub-87"><circle class="c" cx="740" cy="601" r="8.5"/><text class="n" x="740" y="601">87</text></g>
<g id="sub-88"><circle class="c" cx="800" cy="604" r="8.5"/><text class="n" x="800" y="604">88</text></g>
<g id="sub-89"><circle class="c" cx="805" cy="655" r="8.5"/><text class="n" x="805" y="655">89</text></g>
<g id="sub-90"><circle class="c" cx="905" cy="655" r="8.5"/><text class="n" x="905" y="655">90</text></g>
<g id="sub-91"><circle class="c" cx="912" cy="603" r="8.5"/><text class="n" x="912" y="603">91</text></g>
<g id="sub-92"><circle class="c" cx="981" cy="599" r="8.5"/><text class="n" x="981" y="599">92</text></g>
<g id="sub-93"><circle class="c" cx="983" cy="546" r="8.5"/><text class="n" x="983" y="546">93</text></g>
<g id="sub-94"><circle class="c" cx="935" cy="546" r="8.5"/><text class="n" x="935" y="546">94</text></g>
<g id="sub-95"><circle class="c" cx="949" cy="523" r="8.5"/><text class="n" x="949" y="523">95</text></g>
<g id="sub-96"><circle class="c" cx="926" cy="497" r="8.5"/><text class="n" x="926" y="497">96</text></g>
<g id="sub-97"><circle class="c" cx="1008" cy="482" r="8.5"/><text class="n" x="1008" y="482">97</text></g>
<g id="sub-98"><circle class="c" cx="1055" cy="461" r="8.5"/><text class="n" x="1055" y="461">98</text></g>
<g id="sub-99"><circle class="c" cx="1046" cy="546" r="8.5"/><text class="n" x="1046" y="546">99</text></g>
<g id="sub-100"><circle class="c" cx="1025" cy="627" r="8.5"/><text class="n" x="1025" y="627">100</text></g>
<g id="sub-101"><circle class="c" cx="955" cy="626" r="8.5"/><text class="n" x="955" y="626">101</text></g>
<g id="sub-102"><circle class="c" cx="1102" cy="627" r="8.5"/><text class="n" x="1102" y="627">102</text></g>
<g id="sub-103"><circle class="c" cx="1107" cy="544" r="8.5"/><text class="n" x="1107" y="544">103</text></g>
<g id="sub-104"><circle class="c" cx="1158" cy="546" r="8.5"/><text class="n" x="1158" y="546">104</text></g>
<g id="sub-105"><circle class="c" cx="1157" cy="480" r="8.5"/><text class="n" x="1157" y="480">105</text></g>
<g id="sub-106"><circle class="c" cx="1216" cy="546" r="8.5"/><text class="n" x="1216" y="546">106</text></g>
<g id="sub-107"><circle class="c" cx="1204" cy="581" r="8.5"/><text class="n" x="1204" y="581">107</text></g>
<g id="sub-108"><circle class="c" cx="1208" cy="618" r="8.5"/><text class="n" x="1208" y="618">108</text></g>
<g id="sub-109"><circle class="c" cx="1154" cy="652" r="8.5"/><text class="n" x="1154" y="652">109</text></g>
<g id="sub-110"><circle class="c" cx="1109" cy="659" r="8.5"/><text class="n" x="1109" y="659">110</text></g>
<g id="sub-111"><circle class="c" cx="1213" cy="652" r="8.5"/><text class="n" x="1213" y="652">111</text></g>
<g id="sub-112"><circle class="c" cx="235" cy="264" r="8.5"/><text class="n" x="235" y="264">112</text></g>
<g id="sub-113"><circle class="c" cx="252" cy="382" r="8.5"/><text class="n" x="252" y="382">113</text></g>
<g id="sub-114"><circle class="c" cx="262" cy="417" r="8.5"/><text class="n" x="262" y="417">114</text></g>
<g id="sub-115"><circle class="c" cx="996" cy="376" r="8.5"/><text class="n" x="996" y="376">115</text></g>
<g id="sub-116"><circle class="c" cx="284" cy="55" r="8.5"/><text class="n" x="284" y="55">116</text></g>
<g id="sub-117"><circle class="c" cx="792" cy="442" r="8.5"/><text class="n" x="792" y="442">117</text></g>
</g>
<g id="edge-labels">
<text class="e" x="74" y="43">1.00</text><text class="e" x="75" y="63">1.00</text><text class="e" x="192" y="67">1.00</text><text class="e" x="242" y="69">1.00</text><text class="e" x="173" y="86">1.00</text><text class="e" x="182" y="101">1.00</text><text class="e" x="118" y="112">1.00</text><text class="e" x="100" y="127">1.00</text><text class="e" x="106" y="141">1.00</text><text class="e" x="118" y="157">1.00</text><text class="e" x="100" y="169">1.00</text><text class="e" x="196" y="132">1.00</text><text class="e" x="236" y="137">1.00</text><text class="e" x="246" y="165">1.00</text><text class="e" x="297" y="161">1.00</text><text class="e" x="185" y="169">1.00</text><text class="e" x="300" y="93">1.00</text><text class="e" x="278" y="227">1.00</text><text class="e" x="359" y="129">1.00</text><text class="e" x="469" y="132">1.00</text><text class="e" x="534" y="174">1.00</text><text class="e" x="423" y="175">1.00</text><text class="e" x="486" y="212">1.00</text><text class="e" x="347" y="216">1.00</text><text class="e" x="406" y="217">1.00</text><text class="e" x="348" y="243">1.00</text><text class="e" x="72" y="241">1.00</text><text class="e" x="114" y="306">1.00</text><text class="e" x="205" y="281">1.00</text><text class="e" x="286" y="267">1.00</text><text class="e" x="292" y="278">1.00</text><text class="e" x="271" y="298">1.00</text><text class="e" x="173" y="319">1.00</text><text class="e" x="222" y="316">1.00</text><text class="e" x="125" y="339">1.00</text><text class="e" x="243" y="331">1.00</text><text class="e" x="114" y="362">1.00</text><text class="e" x="268" y="361">1.00</text><text class="e" x="317" y="359">1.00</text><text class="e" x="184" y="369">1.00</text><text class="e" x="130" y="393">1.00</text><text class="e" x="275" y="393">1.00</text><text class="e" x="324" y="391">1.00</text><text class="e" x="225" y="403">1.00</text><text class="e" x="246" y="449">1.00</text><text class="e" x="518" y="260">1.00</text><text class="e" x="492" y="285">1.00</text><text class="e" x="481" y="342">1.00</text><text class="e" x="499" y="366">1.00</text><text class="e" x="463" y="392">1.00</text><text class="e" x="382" y="438">1.00</text><text class="e" x="422" y="452">1.00</text><text class="e" x="593" y="307">1.00</text><text class="e" x="667" y="302">1.00</text><text class="e" x="726" y="289">1.00</text><text class="e" x="670" y="326">1.00</text>
<text class="e" x="765" y="47">2.00</text><text class="e" x="805" y="59">2.00</text><text class="e" x="853" y="47">2.00</text><text class="e" x="712" y="76">2.00</text><text class="e" x="722" y="99">2.00</text><text class="e" x="694" y="121">2.00</text><text class="e" x="703" y="131">2.00</text><text class="e" x="673" y="148">2.00</text><text class="e" x="744" y="160">2.00</text><text class="e" x="692" y="184">2.00</text><text class="e" x="636" y="178">2.00</text><text class="e" x="728" y="203">2.00</text><text class="e" x="621" y="213">2.00</text><text class="e" x="797" y="149">2.00</text><text class="e" x="860" y="158">2.00</text><text class="e" x="853" y="220">2.00</text><text class="e" x="827" y="225">2.00</text><text class="e" x="902" y="109">2.00</text><text class="e" x="862" y="241">2.00</text><text class="e" x="895" y="248">2.00</text><text class="e" x="917" y="211">2.00</text><text class="e" x="929" y="232">2.00</text><text class="e" x="960" y="218">2.00</text><text class="e" x="982" y="218">2.00</text><text class="e" x="951" y="179">2.00</text><text class="e" x="995" y="193">2.00</text><text class="e" x="922" y="152">2.00</text><text class="e" x="932" y="152">2.00</text><text class="e" x="942" y="152">2.00</text><text class="e" x="961" y="59">2.00</text><text class="e" x="1031" y="73">2.00</text><text class="e" x="1021" y="95">2.00</text><text class="e" x="1086" y="68">2.00</text><text class="e" x="1094" y="82">2.00</text><text class="e" x="1083" y="103">2.00</text><text class="e" x="1083" y="104">2.00</text><text class="e" x="1065" y="123">2.00</text><text class="e" x="1063" y="147">2.00</text><text class="e" x="1043" y="161">2.00</text><text class="e" x="1033" y="193">2.00</text><text class="e" x="1157" y="137">2.00</text><text class="e" x="1164" y="164">2.00</text><text class="e" x="1176" y="178">2.00</text><text class="e" x="1156" y="233">2.00</text><text class="e" x="1204" y="239">2.00</text><text class="e" x="1132" y="252">2.00</text><text class="e" x="1140" y="268">2.00</text><text class="e" x="1147" y="282">2.00</text><text class="e" x="1112" y="292">2.00</text><text class="e" x="1085" y="291">2.00</text><text class="e" x="1078" y="297">2.00</text><text class="e" x="1138" y="329">2.00</text><text class="e" x="1029" y="334">2.00</text><text class="e" x="1012" y="268">2.00</text><text class="e" x="1010" y="270">2.00</text><text class="e" x="905" y="290">2.00</text><text class="e" x="939" y="297">2.00</text><text class="e" x="983" y="355">2.00</text>
<text class="e" x="677" y="322">3.00</text><text class="e" x="821" y="341">3.00</text><text class="e" x="900" y="344">3.00</text><text class="e" x="708" y="386">3.00</text><text class="e" x="733" y="403">3.00</text><text class="e" x="822" y="403">3.00</text><text class="e" x="708" y="434">3.00</text><text class="e" x="735" y="443">3.00</text><text class="e" x="800" y="460">3.00</text><text class="e" x="815" y="466">3.00</text><text class="e" x="876" y="457">3.00</text><text class="e" x="882" y="467">3.00</text><text class="e" x="900" y="465">3.00</text><text class="e" x="900" y="468">3.00</text><text class="e" x="937" y="392">3.00</text><text class="e" x="893" y="415">3.00</text><text class="e" x="908" y="415">3.00</text><text class="e" x="955" y="425">3.00</text><text class="e" x="981" y="451">3.00</text><text class="e" x="1021" y="453">3.00</text><text class="e" x="995" y="463">3.00</text><text class="e" x="953" y="487">3.00</text><text class="e" x="974" y="498">3.00</text><text class="e" x="879" y="513">3.00</text><text class="e" x="911" y="515">3.00</text><text class="e" x="917" y="517">3.00</text><text class="e" x="921" y="528">3.00</text><text class="e" x="1013" y="537">3.00</text><text class="e" x="1039" y="507">3.00</text><text class="e" x="1067" y="511">3.00</text><text class="e" x="1085" y="504">3.00</text><text class="e" x="952" y="542">3.00</text><text class="e" x="953" y="553">3.00</text><text class="e" x="928" y="567">3.00</text><text class="e" x="952" y="567">3.00</text><text class="e" x="962" y="567">3.00</text><text class="e" x="928" y="593">3.00</text><text class="e" x="1052" y="593">3.00</text><text class="e" x="950" y="607">3.00</text><text class="e" x="1058" y="537">3.00</text><text class="e" x="888" y="623">3.00</text><text class="e" x="971" y="636">3.00</text><text class="e" x="1203" y="506">3.00</text><text class="e" x="1136" y="519">3.00</text><text class="e" x="1147" y="537">3.00</text><text class="e" x="1185" y="538">3.00</text><text class="e" x="1198" y="556">3.00</text><text class="e" x="1080" y="579">3.00</text><text class="e" x="1093" y="579">3.00</text><text class="e" x="1108" y="579">3.00</text><text class="e" x="1222" y="593">3.00</text><text class="e" x="1143" y="632">3.00</text><text class="e" x="1178" y="644">3.00</text><text class="e" x="1193" y="644">3.00</text><text class="e" x="1145" y="664">3.00</text><text class="e" x="793" y="543">3.00</text><text class="e" x="710" y="565">3.00</text><text class="e" x="701" y="577">3.00</text><text class="e" x="717" y="581">3.00</text><text class="e" x="713" y="593">3.00</text><text class="e" x="759" y="594">3.00</text><text class="e" x="786" y="594">3.00</text><text class="e" x="853" y="593">3.00</text><text class="e" x="853" y="597">3.00</text><text class="e" x="708" y="615">3.00</text><text class="e" x="819" y="623">3.00</text><text class="e" x="822" y="623">3.00</text><text class="e" x="691" y="657">3.00</text><text class="e" x="853" y="647">3.00</text>
</g>
<g id="legend">
<rect x="17.5" y="480.5" width="130.5" height="206.5" rx="3" fill="#eeeef4" stroke="#ccc"/>
<text class="lg" x="24" y="494">l2rpn_idf_2023</text>
<line x1="23" y1="517.5" x2="54" y2="517.5" stroke="#000" stroke-width="1"/><text class="lg" x="65" y="518">powerline</text>
<line x1="22" y1="539" x2="54" y2="539" stroke="#00f" stroke-width="3" stroke-linecap="round"/><text class="lg" x="65" y="540">substation</text>
<polygon points="38,552 46.5,566.5 29.5,566.5" fill="#fff" stroke="#ffa500" stroke-width="1.5"/><text class="lg" x="65" y="562">load</text>
<polygon points="38,573 48,580.5 44,592 32,592 28,580.5" fill="#fff" stroke="#228b22" stroke-width="1.5"/><text class="lg" x="65" y="585">generator</text>
<polygon points="38,596 48,606 38,616 28,606" fill="#fff" stroke="#800080" stroke-width="1.5"/><text class="lg" x="65" y="607">storage</text>
<line x1="23" y1="628" x2="54" y2="628" stroke="#000" stroke-width="1.5"/><circle cx="38" cy="628" r="4.5" fill="#000"/><text class="lg" x="64" y="629">no bus</text>
<line x1="23" y1="651" x2="54" y2="651" stroke="#f00" stroke-width="1.5"/><circle cx="38" cy="651" r="4.5" fill="#f00"/><text class="lg" x="64" y="652">bus 1</text>
<line x1="23" y1="673" x2="54" y2="673" stroke="#0f0" stroke-width="1.5"/><circle cx="38" cy="673" r="4.5" fill="#0f0"/><text class="lg" x="64" y="674">bus 2</text>
</g>
</svg>
